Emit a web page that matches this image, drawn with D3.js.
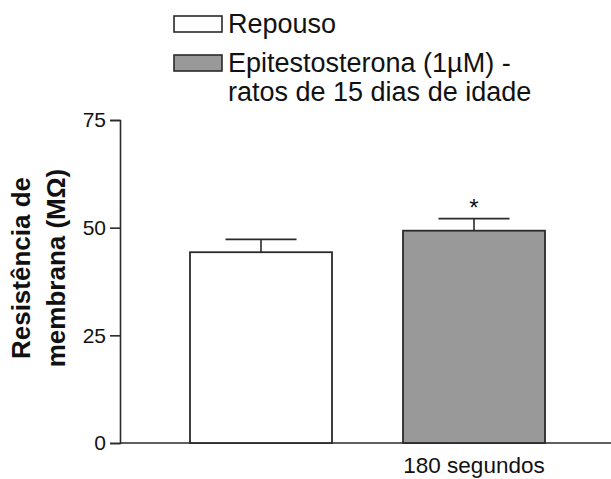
<!DOCTYPE html>
<html>
<head>
<meta charset="utf-8">
<script src="https://cdn.jsdelivr.net/npm/d3@7/dist/d3.min.js"></script>
<style>
  html, body { margin: 0; padding: 0; background: #fff; }
  svg { display: block; font-family: "Liberation Sans", Arial, Helvetica, sans-serif; }
</style>
</head>
<body>
<svg id="chart" width="611" height="479"></svg>
<script>
// Membrane resistance (MΩ), mean ± SEM
const groups = ["Repouso", "Epitestosterona"];
const legendLines = [["Repouso"], ["Epitestosterona (1\u00b5M) -", "ratos de 15 dias de idade"]];
const means = [44.3, 49.3];
const sem = [3.0, 2.8];
const significant = [false, true];
const fills = ["#ffffff", "#999999"];
const yTicks = [0, 25, 50, 75];
const xLabel = "180 segundos";
const yTitle = ["Resist\u00eancia de", "membrana (M\u03a9)"];

const svg = d3.select("#chart");
const ink = "#2a2a2a";

const y = d3.scaleLinear().domain([0, 75]).range([443, 120]);
const x = d3.scaleBand().domain(groups).range([154.5, 580.5])
  .paddingInner(1 / 3).paddingOuter(1 / 6);

// y axis
const yAxis = svg.append("g").attr("transform", "translate(120,0)")
  .call(d3.axisLeft(y).tickValues(yTicks).tickSize(10).tickPadding(4));
yAxis.select(".domain").attr("stroke", ink).attr("stroke-width", 1.6);
yAxis.selectAll(".tick line").attr("stroke", ink).attr("stroke-width", 1.6);
yAxis.selectAll(".tick text").attr("font-size", 21).attr("fill", "#111")
  .attr("font-family", "Liberation Sans, Arial, sans-serif");

// x axis baseline
svg.append("line").attr("x1", 120).attr("x2", 611)
  .attr("y1", y(0)).attr("y2", y(0))
  .attr("stroke", ink).attr("stroke-width", 1.6);

// bars
const data = groups.map((g, i) => ({ g, m: means[i], e: sem[i], s: significant[i], fill: fills[i] }));
const bars = svg.append("g");
bars.selectAll("rect").data(data).join("rect")
  .attr("x", d => x(d.g)).attr("width", x.bandwidth())
  .attr("y", d => y(d.m)).attr("height", d => y(0) - y(d.m))
  .attr("fill", d => d.fill).attr("stroke", ink).attr("stroke-width", 1.8);

// error bars (upper only)
const capHalf = x.bandwidth() / 4;
const err = svg.append("g").attr("stroke", ink);
err.selectAll("line.stem").data(data).join("line").attr("class", "stem")
  .attr("x1", d => x(d.g) + x.bandwidth() / 2).attr("x2", d => x(d.g) + x.bandwidth() / 2)
  .attr("y1", d => y(d.m)).attr("y2", d => y(d.m + d.e)).attr("stroke-width", 1.6);
err.selectAll("line.cap").data(data).join("line").attr("class", "cap")
  .attr("x1", d => x(d.g) + x.bandwidth() / 2 - capHalf)
  .attr("x2", d => x(d.g) + x.bandwidth() / 2 + capHalf)
  .attr("y1", d => y(d.m + d.e)).attr("y2", d => y(d.m + d.e)).attr("stroke-width", 1.8);

// significance marker
svg.selectAll("text.star").data(data.filter(d => d.s)).join("text").attr("class", "star")
  .attr("x", d => x(d.g) + x.bandwidth() / 2).attr("y", d => y(d.m + d.e) - 3)
  .attr("text-anchor", "middle").attr("font-size", 24).attr("fill", "#111").text("*");

// category label under second bar
svg.append("text").attr("x", x(groups[1]) + x.bandwidth() / 2).attr("y", 473)
  .attr("text-anchor", "middle").attr("font-size", 22.5).attr("fill", "#111").text(xLabel);

// y axis title
const yt = svg.append("text").attr("transform", "translate(30,268) rotate(-90)")
  .attr("text-anchor", "middle").attr("font-size", 26).attr("font-weight", "bold").attr("fill", "#111");
yTitle.forEach((t, i) => yt.append("tspan").attr("x", 0).attr("y", i * 35).text(t));

// legend
const legendY = [33, 72];
const leg = svg.append("g");
legendLines.forEach((lines, i) => {
  leg.append("rect").attr("x", 174).attr("y", legendY[i] - 17).attr("width", 48).attr("height", 16)
    .attr("fill", fills[i]).attr("stroke", ink).attr("stroke-width", 1.6);
  const t = leg.append("text").attr("x", 228).attr("y", legendY[i])
    .attr("font-size", 27).attr("fill", "#111");
  lines.forEach((l, j) => t.append("tspan").attr("x", 228).attr("y", legendY[i] + j * 29).text(l));
});
</script>
</body>
</html>
